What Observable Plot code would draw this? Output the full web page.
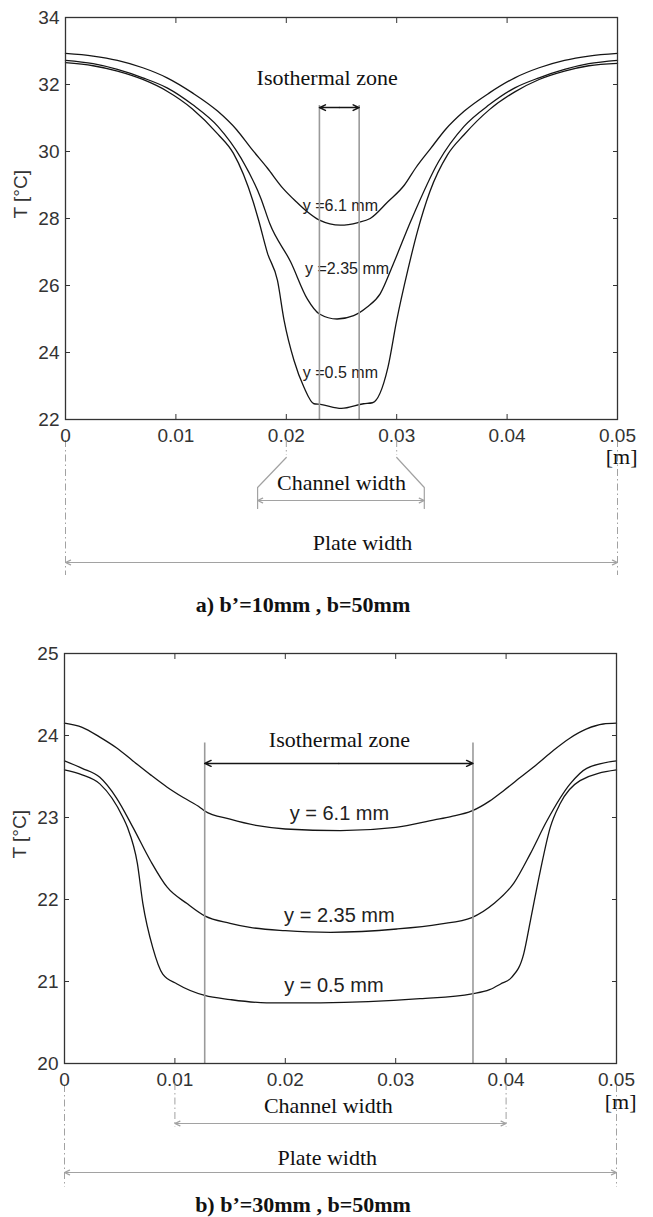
<!DOCTYPE html>
<html>
<head>
<meta charset="utf-8">
<script src="https://cdn.jsdelivr.net/npm/d3@7"></script>
<script src="https://cdn.jsdelivr.net/npm/@observablehq/plot@0.6"></script>
<style>
  body { margin: 0; background: #fff; }
  #page { position: relative; width: 653px; height: 1217px; overflow: hidden; background: #fff; }
  #page > .panel { position: absolute; left: 0; }
  #page > .cap {
    position: absolute; transform: translate(-50%, -50%); white-space: nowrap;
    font-family: "Liberation Serif", "Times New Roman", serif; font-weight: bold;
    font-size: 22px; color: #111;
  }
</style>
</head>
<body>
<div id="page"></div>
<script>
// Shared x ticks across the plate width (m)
const xTicks = [0, 0.01, 0.02, 0.03, 0.04, 0.05];
const tickText = d => String(+d.toFixed(2));

// ---------- (a) b' = 10 mm, b = 50 mm ----------
const aTicksT = [22, 24, 26, 28, 30, 32, 34];
const aX61 = [0, 0.0025, 0.0047, 0.007, 0.0092, 0.0115, 0.0138, 0.0155, 0.0168, 0.0183, 0.0197, 0.0209, 0.0219, 0.023, 0.0249, 0.0265, 0.0276, 0.0292, 0.0307, 0.0317, 0.0331, 0.0344, 0.0361, 0.0384, 0.0407, 0.0429, 0.0452, 0.0474, 0.05];
const aT61 = [32.93, 32.85, 32.72, 32.5, 32.2, 31.75, 31.2, 30.65, 30.1, 29.5, 28.9, 28.5, 28.2, 27.95, 27.8, 27.88, 28.0, 28.5, 29.0, 29.5, 30.1, 30.65, 31.2, 31.75, 32.2, 32.5, 32.72, 32.85, 32.93];
const aX235 = [0, 0.0025, 0.0047, 0.007, 0.0092, 0.0115, 0.0138, 0.0159, 0.0177, 0.0185, 0.0204, 0.0219, 0.023, 0.0246, 0.0261, 0.0273, 0.0285, 0.0297, 0.0313, 0.0338, 0.0361, 0.0384, 0.0407, 0.0429, 0.0452, 0.0474, 0.05];
const aT235 = [32.72, 32.62, 32.45, 32.2, 31.9, 31.4, 30.75, 29.8, 28.6, 27.85, 26.7, 25.6, 25.15, 25.0, 25.1, 25.35, 25.75, 26.65, 27.94, 29.7, 30.75, 31.4, 31.9, 32.2, 32.45, 32.62, 32.72];
const aX05 = [0, 0.0025, 0.0047, 0.007, 0.0092, 0.0115, 0.0138, 0.0152, 0.017, 0.0175, 0.0183, 0.0192, 0.0198, 0.0207, 0.0216, 0.0225, 0.0231, 0.025, 0.027, 0.0278, 0.0292, 0.03, 0.031, 0.0319, 0.033, 0.0346, 0.0361, 0.0384, 0.0407, 0.0429, 0.0452, 0.0474, 0.05];
const aT05 = [32.65, 32.56, 32.4, 32.15, 31.8, 31.27, 30.52, 29.95, 28.5, 27.94, 26.96, 26.15, 24.96, 23.76, 22.96, 22.47, 22.45, 22.33, 22.47, 22.5, 23.55, 24.96, 26.45, 27.64, 28.8, 29.9, 30.5, 31.25, 31.78, 32.15, 32.4, 32.56, 32.63];
const aIsoBounds = [0.0230, 0.0266];
const aChannelTicks = [0.02, 0.03];
const aChannelEnds = [0.0174, 0.0325];

// ---------- (b) b' = 30 mm, b = 50 mm ----------
const bTicksT = [20, 21, 22, 23, 24, 25];
const bX61 = [0, 0.0016, 0.0032, 0.0047, 0.0062, 0.0078, 0.0093, 0.0108, 0.0123, 0.0127, 0.015, 0.0175, 0.02, 0.025, 0.03, 0.0335, 0.035, 0.0369, 0.0385, 0.0398, 0.0413, 0.0428, 0.0443, 0.0458, 0.0473, 0.0488, 0.05];
const bT61 = [24.15, 24.1, 23.98, 23.85, 23.69, 23.52, 23.37, 23.24, 23.12, 23.08, 22.98, 22.9, 22.86, 22.84, 22.88, 22.97, 23.01, 23.08, 23.2, 23.33, 23.49, 23.65, 23.82, 23.97, 24.08, 24.14, 24.15];
const bX235 = [0, 0.0016, 0.0032, 0.0047, 0.0062, 0.0078, 0.0093, 0.0111, 0.0127, 0.015, 0.0168, 0.02, 0.0241, 0.0301, 0.034, 0.0369, 0.0389, 0.0407, 0.0422, 0.0437, 0.0458, 0.0473, 0.05];
const bT235 = [23.69, 23.6, 23.49, 23.24, 22.88, 22.47, 22.15, 21.95, 21.8, 21.71, 21.66, 21.62, 21.6, 21.64, 21.7, 21.78, 21.95, 22.2, 22.56, 22.96, 23.41, 23.6, 23.69];
const bX05 = [0, 0.0016, 0.0032, 0.0053, 0.0057, 0.0066, 0.0071, 0.008, 0.0089, 0.0102, 0.0127, 0.015, 0.0183, 0.0232, 0.0322, 0.0369, 0.0385, 0.0395, 0.0405, 0.0416, 0.0422, 0.0431, 0.044, 0.0449, 0.0467, 0.05];
const bT05 = [23.58, 23.52, 23.41, 23.0, 22.88, 22.44, 21.95, 21.41, 21.09, 20.97, 20.83, 20.78, 20.74, 20.74, 20.79, 20.85, 20.9, 20.97, 21.05, 21.34, 21.74, 22.35, 22.88, 23.17, 23.45, 23.58];
const bIsoBounds = [0.0127, 0.0370];
const bChannelTicks = [0.01, 0.04];

const plateEdges = [0, 0.05];

const ink = "#151515";
const axisInk = "#333";
const guide = "#a2a2a2";
const dashDot = "7,3,1.5,3";
const sans = "Liberation Sans, Arial, sans-serif";
const serif = "Liberation Serif, Times New Roman, serif";

// Double-headed arrow as two arrows from the middle outward
function twoWay(xa, xb, T, opts) {
  const mid = (xa + xb) / 2;
  return [
    Plot.arrow([0], {x1: mid, x2: xa, y1: T, y2: T, ...opts}),
    Plot.arrow([0], {x1: mid, x2: xb, y1: T, y2: T, ...opts})
  ];
}

// Common frame, inward ticks, tick labels, curves and labels
function panel(o) {
  const plotH = o.height - o.marginTop - o.marginBottom;
  // temperature level lying px pixels under the bottom edge of the frame
  const lv = px => o.yDomain[0] - px * (o.yDomain[1] - o.yDomain[0]) / plotH;
  const rows = o.series.flatMap(s => s.x.map((x, i) => ({series: s.name, x, T: s.T[i]})));
  const marks = [
    // curves
    Plot.line(rows, {x: "x", y: "T", z: "series", curve: "monotone-x", stroke: ink, strokeWidth: 1.3}),
    Plot.text(o.curveLabels, {x: "x", y: "T", text: "text", fontSize: o.labelSize, fill: "#222", fontFamily: sans}),
    // isothermal zone
    Plot.ruleX(o.iso, {y1: o.isoTop, y2: o.yDomain[0], stroke: "#9a9a9a", strokeWidth: 1.6}),
    ...twoWay(o.iso[0], o.iso[1], o.isoArrow, {stroke: ink, strokeWidth: 1.5, headLength: 7, headAngle: 50}),
    Plot.text([o.isoText], {x: "x", y: "T", text: () => "Isothermal zone", fontFamily: serif, fontSize: 22, fill: "#111"}),
    // plate width guide
    Plot.ruleX(plateEdges, {y1: lv(o.plate.from), y2: lv(o.plate.to), stroke: guide, strokeDasharray: dashDot}),
    ...twoWay(plateEdges[0], plateEdges[1], lv(o.plate.arrow), {stroke: guide, strokeWidth: 1.2, headLength: 7, headAngle: 50}),
    Plot.text([o.plate], {x: "x", y: () => lv(o.plate.text), text: () => "Plate width", fontFamily: serif, fontSize: 22, fill: "#111"}),
    // channel width label
    Plot.text([o.channel], {x: "x", y: () => lv(o.channel.text), text: () => "Channel width", fontFamily: serif, fontSize: 22, fill: "#111"}),
    Plot.text(["[m]"], {frameAnchor: "bottom-right", dx: 20, dy: o.unitDy, fontFamily: serif, fontSize: 22, fill: "#111"}),
    // axis title
    Plot.text(["T [°C]"], {frameAnchor: "left", dx: -45, rotate: -90, fontSize: 19, fill: axisInk, fontFamily: sans}),
    // tick labels
    Plot.axisX(xTicks, {anchor: "bottom", tickSize: 0, tickPadding: 9, tickFormat: tickText, label: null, fill: axisInk, fontSize: 19}),
    Plot.axisY(o.yTicks, {anchor: "left", tickSize: 0, tickPadding: 6, tickFormat: d => String(d), label: null, fill: axisInk, fontSize: 19}),
    // inward ticks on all four sides
    Plot.axisX(xTicks, {anchor: "bottom", tickSize: -5, fill: "none", label: null, stroke: axisInk}),
    Plot.axisX(xTicks, {anchor: "top", tickSize: -5, fill: "none", label: null, stroke: axisInk}),
    Plot.axisY(o.yTicks, {anchor: "left", tickSize: -5, fill: "none", label: null, stroke: axisInk}),
    Plot.axisY(o.yTicks, {anchor: "right", tickSize: -5, fill: "none", label: null, stroke: axisInk}),
    Plot.frame({stroke: axisInk, strokeWidth: 1.3}),
    ...o.extra(lv)
  ];
  return Plot.plot({
    width: 653, height: o.height,
    marginTop: o.marginTop, marginBottom: o.marginBottom, marginLeft: o.marginLeft, marginRight: o.marginRight,
    x: {domain: [0, 0.05], label: null},
    y: {domain: o.yDomain, label: null},
    style: {fontFamily: sans, fontSize: "19px", background: "#fff", overflow: "visible"},
    marks
  });
}

const page = document.getElementById("page");

const chartA = panel({
  height: 585, marginTop: 17, marginBottom: 166, marginLeft: 65, marginRight: 36,
  yDomain: [22, 34], yTicks: aTicksT,
  series: [
    {name: "6.1", x: aX61, T: aT61},
    {name: "2.35", x: aX235, T: aT235},
    {name: "0.5", x: aX05, T: aT05}
  ],
  labelSize: 16,
  curveLabels: [
    {x: 0.0249, T: 28.39, text: "y =6.1 mm"},
    {x: 0.0255, T: 26.51, text: "y =2.35 mm"},
    {x: 0.0249, T: 23.40, text: "y =0.5 mm"}
  ],
  iso: aIsoBounds, isoTop: 31.37, isoArrow: 31.31,
  isoText: {x: 0.0237, T: 32.21},
  plate: {from: 21, to: 156, arrow: 143, text: 123, x: 0.0269},
  channel: {text: 63, x: 0.0250},
  unitDy: 44,
  extra: lv => [
    Plot.ruleX(aChannelTicks, {y1: lv(21), y2: lv(36), stroke: guide, strokeDasharray: dashDot}),
    Plot.line([
      {k: 0, x: aChannelTicks[0], T: lv(38)}, {k: 0, x: aChannelEnds[0], T: lv(68)}, {k: 0, x: aChannelEnds[0], T: lv(89)},
      {k: 1, x: aChannelTicks[1], T: lv(38)}, {k: 1, x: aChannelEnds[1], T: lv(68)}, {k: 1, x: aChannelEnds[1], T: lv(89)}
    ], {x: "x", y: "T", z: "k", stroke: guide, strokeWidth: 1.2}),
    ...twoWay(aChannelEnds[0], aChannelEnds[1], lv(81), {stroke: guide, strokeWidth: 1.2, headLength: 7, headAngle: 50})
  ]
});
chartA.classList.add("panel");
chartA.style.top = "0px";
page.appendChild(chartA);

const capA = document.createElement("div");
capA.className = "cap";
capA.textContent = "a) b’=10mm , b=50mm";
capA.style.left = "303px"; capA.style.top = "605px";
page.appendChild(capA);

const chartB = panel({
  height: 570, marginTop: 33, marginBottom: 127, marginLeft: 64, marginRight: 37,
  yDomain: [20, 25], yTicks: bTicksT,
  series: [
    {name: "6.1", x: bX61, T: bT61},
    {name: "2.35", x: bX235, T: bT235},
    {name: "0.5", x: bX05, T: bT05}
  ],
  labelSize: 20,
  curveLabels: [
    {x: 0.0249, T: 23.045, text: "y = 6.1 mm"},
    {x: 0.0249, T: 21.80, text: "y = 2.35 mm"},
    {x: 0.0244, T: 20.95, text: "y = 0.5 mm"}
  ],
  iso: bIsoBounds, isoTop: 23.91, isoArrow: 23.66,
  isoText: {x: 0.0249, T: 23.95},
  plate: {from: 22, to: 124, arrow: 109, text: 94, x: 0.0238},
  channel: {text: 42, x: 0.0239},
  unitDy: 45,
  extra: lv => [
    Plot.ruleX(bChannelTicks, {y1: lv(20), y2: lv(64), stroke: guide, strokeDasharray: dashDot}),
    ...twoWay(bChannelTicks[0], bChannelTicks[1], lv(60), {stroke: guide, strokeWidth: 1.2, headLength: 7, headAngle: 50})
  ]
});
chartB.classList.add("panel");
chartB.style.top = "620px";
page.appendChild(chartB);

const capB = document.createElement("div");
capB.className = "cap";
capB.textContent = "b) b’=30mm , b=50mm";
capB.style.left = "303px"; capB.style.top = "1205px";
page.appendChild(capB);
</script>
</body>
</html>
